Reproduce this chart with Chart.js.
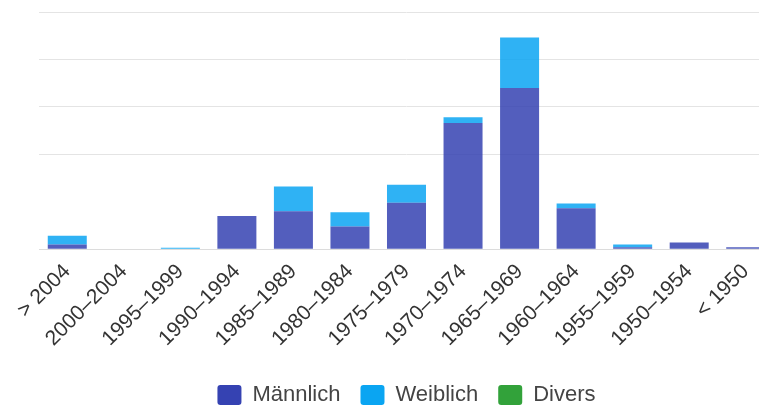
<!DOCTYPE html>
<html>
<head>
<meta charset="utf-8">
<script src="https://cdn.jsdelivr.net/npm/chart.js@4/dist/chart.umd.min.js"></script>
<style>
  html, body { margin: 0; padding: 0; background: #fff; overflow: hidden; }
  #wrap { width: 759px; height: 409px; overflow: hidden; position: relative; }
  #box { width: 806px; height: 416px; position: absolute; left: 0; top: 0; }
</style>
</head>
<body>
<div id="wrap"><div id="box"><canvas id="c"></canvas></div></div>
<script>
const categories = ['> 2004','2000–2004','1995–1999','1990–1994','1985–1989','1980–1984','1975–1979','1970–1974','1965–1969','1960–1964','1955–1959','1950–1954','< 1950'];
const maennlich = [5, 0, 0.5, 35, 40, 24, 49, 133, 170, 43, 2, 7, 2];
const weiblich  = [9, 0, 1, 0, 26, 15, 19, 6, 53, 5, 3, 0, 0];
const divers    = [0, 0, 0, 0, 0, 0, 0, 0, 0, 0, 0, 0, 0];
const seriesNames = ['Männlich', 'Weiblich', 'Divers'];

const legendColors = ['#3542b2', '#0aa5f2', '#32a23a'];
const barColors = ['rgba(53,66,178,0.85)', 'rgba(10,165,242,0.85)', 'rgba(50,162,58,0.85)'];

new Chart(document.getElementById('c'), {
  type: 'bar',
  data: {
    labels: categories,
    datasets: [
      { label: seriesNames[0], data: maennlich, backgroundColor: barColors[0] },
      { label: seriesNames[1], data: weiblich, backgroundColor: barColors[1] },
      { label: seriesNames[2], data: divers, backgroundColor: barColors[2] }
    ]
  },
  options: {
    responsive: true,
    maintainAspectRatio: false,
    animation: false,
    categoryPercentage: 1,
    barPercentage: 0.69,
    layout: { padding: { left: 39, right: 32, top: 12, bottom: 0 } },
    plugins: {
      tooltip: { enabled: false },
      legend: {
        position: 'bottom',
        title: { display: true, text: '', font: { size: 1 }, padding: { top: 0, bottom: 9.5 } },
        labels: {
          font: { family: 'Liberation Sans', size: 22 },
          color: '#444',
          boxWidth: 24,
          boxHeight: 20,
          padding: 20,
          useBorderRadius: true,
          borderRadius: 3,
          generateLabels: (chart) => Chart.defaults.plugins.legend.labels.generateLabels(chart).map((item, i) => {
            item.fillStyle = legendColors[i];
            item.strokeStyle = legendColors[i];
            item.lineWidth = 0;
            return item;
          })
        }
      }
    },
    scales: {
      x: {
        stacked: true,
        grid: { display: false },
        border: { display: true, color: '#dcdcdc', width: 1 },
        ticks: {
          font: { family: 'Liberation Sans', size: 21 },
          color: '#333',
          maxRotation: 45,
          minRotation: 45,
          autoSkip: false,
          padding: 2
        }
      },
      y: {
        stacked: true,
        min: 0,
        max: 250,
        grid: {
          drawTicks: false,
          color: (ctx) => (ctx.tick && (ctx.tick.value === 50 || ctx.tick.value === 0)) ? 'rgba(0,0,0,0)' : '#e4e4e4'
        },
        border: { display: false },
        ticks: { display: false, stepSize: 50 }
      }
    }
  }
});
</script>
</body>
</html>
